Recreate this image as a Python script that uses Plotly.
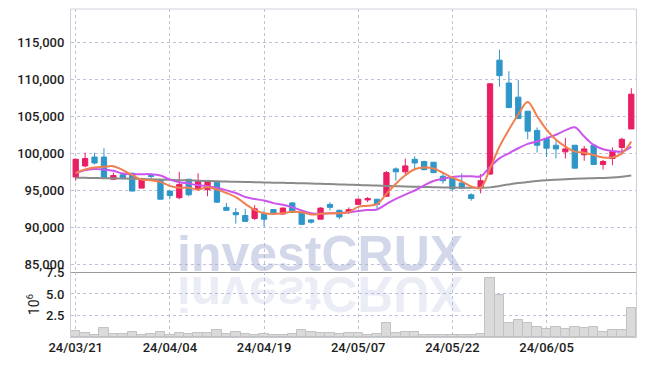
import plotly.graph_objects as go

# ---------------- data ----------------
dates = ["24/03/21", "24/03/22", "24/03/25", "24/03/26", "24/03/27", "24/03/28", "24/03/29",
         "24/04/01", "24/04/02", "24/04/03", "24/04/04", "24/04/05", "24/04/08", "24/04/09",
         "24/04/11", "24/04/12", "24/04/15", "24/04/16", "24/04/17", "24/04/18", "24/04/19",
         "24/04/22", "24/04/23", "24/04/24", "24/04/25", "24/04/26", "24/04/29", "24/04/30",
         "24/05/02", "24/05/03", "24/05/07", "24/05/08", "24/05/09", "24/05/10", "24/05/13",
         "24/05/14", "24/05/16", "24/05/17", "24/05/20", "24/05/21", "24/05/22", "24/05/23",
         "24/05/24", "24/05/27", "24/05/28", "24/05/29", "24/05/30", "24/05/31", "24/06/03",
         "24/06/04", "24/06/05", "24/06/07", "24/06/10", "24/06/11", "24/06/12", "24/06/13",
         "24/06/14", "24/06/17", "24/06/18", "24/06/19"]

open_ = [96800, 98300, 99500, 99500, 96500, 97100, 97300, 95300, 97000, 96400,
         94900, 94000, 96500, 95200, 95100, 96100, 92700, 92000, 91600, 91200,
         91800, 92400, 91800, 93300, 92000, 91000, 91100, 93100, 92300, 92000,
         93100, 93700, 93800, 94200, 97900, 97500, 99200, 98900, 98800, 96900,
         96600, 96000, 94400, 95300, 97200, 112600, 109500, 107600, 105700, 103100,
         102000, 101100, 100200, 101100, 99800, 101100, 98500, 99300, 100800, 103300]
high = [99300, 100100, 100100, 100700, 97400, 97300, 97400, 96700, 97300, 96500,
        95000, 97500, 96500, 97300, 96300, 96300, 93300, 92600, 92500, 93000,
        92300, 92400, 92700, 93400, 92300, 91100, 92700, 93400, 92400, 92700,
        93900, 94100, 93800, 97600, 98100, 99300, 99600, 99000, 98800, 97500,
        96600, 97300, 94600, 97200, 109500, 114000, 111100, 109900, 105700, 103500,
        102000, 101700, 102100, 101100, 101000, 101100, 99100, 100800, 102100, 108800]
low = [96300, 98100, 98500, 96600, 96400, 96500, 94900, 95300, 96500, 93800,
       93800, 93800, 94200, 95000, 94200, 93300, 92300, 90500, 90800, 91000,
       90100, 91700, 91700, 92000, 90400, 90500, 91100, 92300, 91100, 91800,
       93100, 93400, 92500, 94100, 96300, 97200, 97700, 97700, 97300, 95900,
       95000, 95200, 93600, 94600, 97100, 109000, 106100, 104700, 101900, 100100,
       99500, 99300, 99300, 98000, 99000, 98500, 97800, 98400, 99800, 103300]
close = [99200, 99300, 98700, 96700, 97000, 96700, 94900, 96500, 96900, 93800,
         94300, 95800, 94400, 96200, 96300, 93400, 92300, 91700, 90800, 92500,
         91100, 91800, 92600, 92000, 90400, 90700, 92600, 92700, 91400, 92400,
         93800, 93900, 93100, 97400, 97500, 98300, 98700, 97800, 97400, 96300,
         95200, 95300, 93900, 96300, 109400, 110500, 106200, 104700, 103000, 101100,
         100700, 100600, 100600, 98000, 100600, 98500, 98900, 100300, 101900, 108000]

ma_short = [97360, 97820, 98090, 98180, 98270, 97730, 97050, 96450, 96360, 96140,
            95590, 95360, 95360, 95090, 95450, 95090, 94640, 94090, 93180, 92360,
            91910, 91820, 91910, 92090, 92050, 91730, 91820, 91910, 91910, 92050,
            92760, 92920, 93150, 94520, 95890, 97030, 97850, 98080, 97950, 97350,
            96710, 96210, 95530, 95340, 97950, 100910, 103200, 105250, 106940, 105020,
            103200, 101830, 100910, 100230, 100090, 99770, 99450, 99450, 100000, 101600]
ma_mid = [97300, 97730, 97900, 97820, 97640, 97270, 97180, 97180, 97180, 97000,
          96450, 96090, 95910, 95680, 95550, 95360, 95000, 94640, 94090, 93820,
          93640, 93270, 93050, 92730, 92270, 91910, 91820, 91910, 91910, 92050,
          92200, 92330, 92420, 93150, 93840, 94430, 94980, 95660, 96260, 96580,
          96800, 96900, 96900, 96900, 98170, 99320, 100000, 100690, 101280, 101600,
          102060, 102510, 103100, 103520, 102280, 101140, 100550, 100320, 100230, 100910]
ma_long = [96700, 96690, 96670, 96650, 96620, 96600, 96570, 96540, 96500, 96460,
           96420, 96380, 96340, 96300, 96260, 96220, 96190, 96160, 96130, 96100,
           96070, 96040, 96010, 95980, 95950, 95920, 95880, 95840, 95800, 95760,
           95720, 95680, 95640, 95600, 95560, 95520, 95490, 95460, 95430, 95400,
           95380, 95360, 95350, 95340, 95400, 95600, 95800, 95980, 96120, 96250,
           96350, 96430, 96500, 96560, 96600, 96640, 96680, 96740, 96850, 97000]

volume_m = [0.65, 0.45, 0.25, 1.05, 0.40, 0.35, 0.60, 0.25, 0.40, 0.60,
            0.25, 0.45, 0.35, 0.45, 0.50, 0.85, 0.40, 0.60, 0.35, 0.25,
            0.35, 0.25, 0.25, 0.35, 0.80, 0.60, 0.45, 0.45, 0.35, 0.45,
            0.45, 0.25, 0.38, 1.60, 0.50, 0.60, 0.60, 0.25, 0.25, 0.25,
            0.25, 0.25, 0.25, 0.38, 6.80, 4.85, 1.60, 1.95, 1.60, 1.15,
            0.92, 1.15, 0.92, 1.15, 1.05, 1.15, 0.60, 0.80, 0.80, 3.35]

tick_labels = ["24/03/21", "24/04/04", "24/04/19", "24/05/07", "24/05/22", "24/06/05"]
price_ticks = [85000, 90000, 95000, 100000, 105000, 110000, 115000]
vol_ticks = [2.5, 5.0, 7.5]
watermark = "investCRUX"
# the reflection: the mirrored word, drawn rotated by 180 degrees
watermark_mirror = "XUЯƆtƨɘvni"

# ---------------- style ----------------
RED = "#E91E63"
BLUE = "#2E96C8"
GRID = "rgba(185,185,215,0.9)"
FONT = "Roboto, Liberation Sans, Arial, sans-serif"
TXT = "#1e1e1e"
W, H = 645, 366
L, R, T, B = 71, 9, 9, 29
PW, PH = W - L - R, H - T - B
VOL_FRAC = 65 / PH

fig = go.Figure()
fig.add_trace(go.Candlestick(
    x=dates, open=open_, high=high, low=low, close=close,
    increasing=dict(line=dict(color=RED, width=1), fillcolor=RED),
    decreasing=dict(line=dict(color=BLUE, width=1), fillcolor=BLUE),
    whiskerwidth=0, showlegend=False, hoverinfo="skip",
    xaxis="x", yaxis="y"))
fig.add_trace(go.Scatter(x=dates, y=ma_long, mode="lines", showlegend=False, hoverinfo="skip",
                         line=dict(color="#8a8a8a", width=2, shape="spline"), xaxis="x", yaxis="y"))
fig.add_trace(go.Scatter(x=dates, y=ma_mid, mode="lines", showlegend=False, hoverinfo="skip",
                         line=dict(color="#CC55EE", width=2, shape="spline"), xaxis="x", yaxis="y"))
fig.add_trace(go.Scatter(x=dates, y=ma_short, mode="lines", showlegend=False, hoverinfo="skip",
                         line=dict(color="#F08050", width=2, shape="spline"), xaxis="x", yaxis="y"))
fig.add_trace(go.Bar(x=dates, y=volume_m, showlegend=False, hoverinfo="skip",
                     marker=dict(color="#dadada", line=dict(color="#c2c2c2", width=1)),
                     xaxis="x2", yaxis="y2"))

tickfont = dict(family=FONT, size=13, color=TXT, weight=500)
common_x = dict(type="category", range=[-0.5, len(dates) - 0.5], tickmode="array",
                tickvals=tick_labels, ticktext=tick_labels, showgrid=True, gridcolor=GRID,
                griddash="dot", gridwidth=1, zeroline=False, ticks="", automargin=False)

fig.update_layout(
    width=W, height=H, margin=dict(l=L, r=R, t=T, b=B, autoexpand=False),
    paper_bgcolor="white", plot_bgcolor="white", showlegend=False,
    bargap=0, boxgap=0.2,
    xaxis=dict(common_x, domain=[0, 1], anchor="y", showticklabels=False,
               rangeslider=dict(visible=False), showline=True, linecolor="#9a9a9a",
               linewidth=1, mirror=False),
    xaxis2=dict(common_x, domain=[0, 1], anchor="y2", matches="x", showticklabels=True,
                tickfont=tickfont, showline=True, ticklabelstandoff=-2,
                linecolor="#c8c8d0", linewidth=1),
    yaxis=dict(domain=[VOL_FRAC, 1], range=[83960, 119515], tickvals=price_ticks,
               tickformat=",d", tickfont=tickfont, showgrid=True, gridcolor=GRID,
               griddash="dot", zeroline=False, showline=True, linecolor="#d0d0dc",
               mirror=True, ticks="", ticklabelstandoff=3, automargin=False),
    yaxis2=dict(domain=[0, VOL_FRAC], range=[0, 7.55], tickvals=vol_ticks,
                ticktext=[f"{v:.1f}" for v in vol_ticks], tickfont=tickfont,
                showgrid=True, gridcolor=GRID, griddash="dot", zeroline=False,
                showline=True, linecolor="#d0d0dc", mirror=True, ticks="",
                ticklabelstandoff=3, automargin=False,
                title=dict(text="10<sup>6</sup>", font=dict(family=FONT, size=14, color=TXT),
                           standoff=3)),
    shapes=[dict(type="line", xref="paper", yref="paper", x0=0, x1=1, y0=1, y1=1,
                 line=dict(color="#d0d0dc", width=1))],
)

# ---------------- watermark ----------------
WM_SIZE = 50
WM_CENTER_X = 319.9
base_y = 272.0
mirror_y = 275.0
px2x = lambda px: (px - L) / PW
px2y = lambda py: (T + PH - py) / PH
desc = 0.212 * WM_SIZE
WM_FONT = "Liberation Sans, Arial, sans-serif"
main_col = "rgba(161,173,209,0.48)"
refl_col = "rgba(161,173,209,0.22)"
fig.add_annotation(text="<b>" + watermark + "</b>", xref="paper", yref="paper",
                   x=px2x(WM_CENTER_X), y=px2y(base_y + desc), xanchor="center",
                   yanchor="bottom", showarrow=False, borderpad=0,
                   font=dict(family=WM_FONT, size=WM_SIZE, color=main_col))
fig.add_annotation(text="<b>" + watermark_mirror + "</b>", xref="paper", yref="paper",
                   x=px2x(WM_CENTER_X), y=px2y(mirror_y - desc), xanchor="center",
                   yanchor="top", textangle=180, showarrow=False, borderpad=0,
                   font=dict(family=WM_FONT, size=WM_SIZE, color=refl_col))

fig.write_html("out.html", config={"displayModeBar": False},
               post_script="document.body.style.margin='0';document.body.style.overflow='hidden';")
